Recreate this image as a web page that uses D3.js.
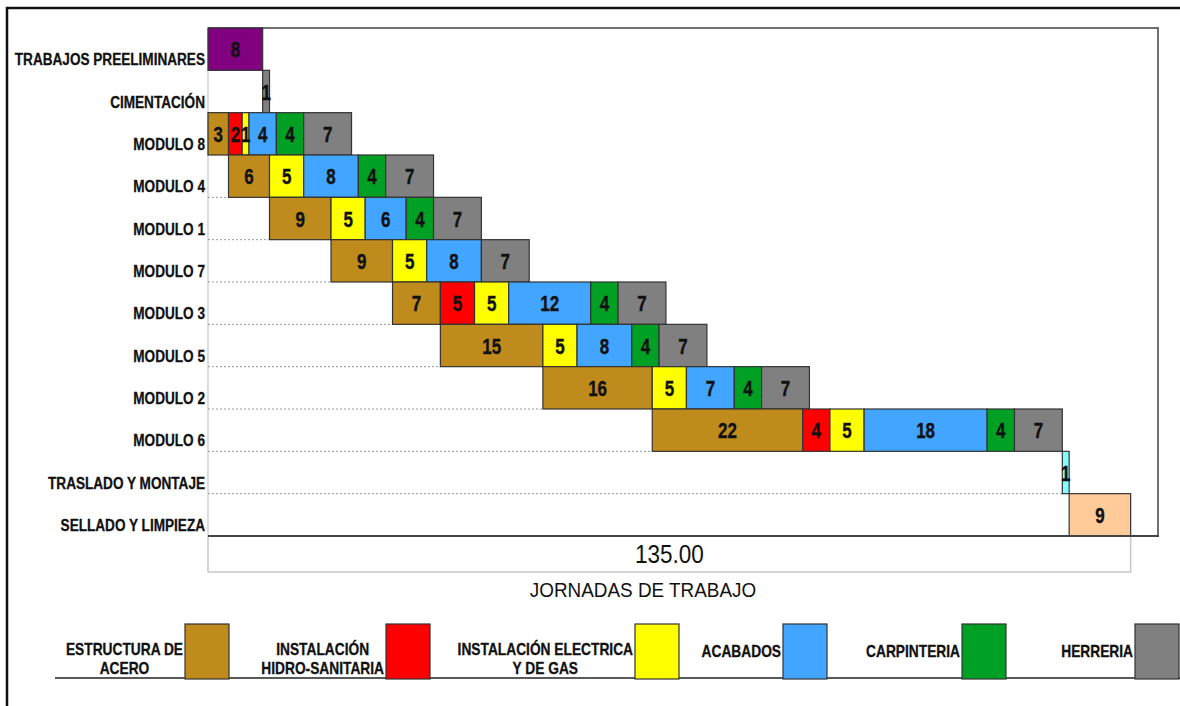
<!DOCTYPE html>
<html>
<head>
<meta charset="utf-8">
<script src="https://cdn.jsdelivr.net/npm/d3@7"></script>
<style>
  html, body { margin: 0; padding: 0; background: #fff; }
  svg { display: block; font-family: "Liberation Sans", Arial, sans-serif; }
</style>
</head>
<body>
<svg id="chart" width="1180" height="706"></svg>
<script>
// Activities, top to bottom
const activities = [
  "TRABAJOS PREELIMINARES", "CIMENTACIÓN", "MODULO 8", "MODULO 4", "MODULO 1",
  "MODULO 7", "MODULO 3", "MODULO 5", "MODULO 2", "MODULO 6",
  "TRASLADO Y MONTAJE", "SELLADO Y LIMPIEZA"
];
// Start day of each activity (jornadas)
const startDay = [0, 8, 0, 3, 9, 18, 27, 34, 49, 65, 125, 126];

// Single-task activities (days)
const generalWork = [8, 1, 0, 0, 0, 0, 0, 0, 0, 0, 1, 9];

// Trade durations per module (days), stacked in this order
const trades = ["ESTRUCTURA DE ACERO", "INSTALACIÓN HIDRO-SANITARIA", "INSTALACIÓN ELECTRICA Y DE GAS",
                "ACABADOS", "CARPINTERIA", "HERRERIA"];
const estructura  = [0, 0, 3,  6, 9, 9,  7, 15, 16, 22, 0, 0];
const hidro       = [0, 0, 2,  0, 0, 0,  5,  0,  0,  4, 0, 0];
const electrica   = [0, 0, 1,  5, 5, 5,  5,  5,  5,  5, 0, 0];
const acabados    = [0, 0, 4,  8, 6, 8, 12,  8,  7, 18, 0, 0];
const carpinteria = [0, 0, 4,  4, 4, 0,  4,  4,  4,  4, 0, 0];
const herreria    = [0, 0, 7,  7, 7, 7,  7,  7,  7,  7, 0, 0];

// Legend text, split into lines
const legendLines = [
  ["ESTRUCTURA DE", "ACERO"], ["INSTALACIÓN", "HIDRO-SANITARIA"], ["INSTALACIÓN ELECTRICA", "Y DE GAS"],
  ["ACABADOS"], ["CARPINTERIA"], ["HERRERIA"]
];
const axisTitle = "JORNADAS DE TRABAJO";

// ---- styles ----
const tradeColors = ["#BF8B1C", "#FF0000", "#FFFF00", "#42A5FF", "#00A024", "#808080"];
const generalColors = ["#800080", "#808080", null, null, null, null, null, null, null, null, "#80FFFF", "#FFCC99"];
const tradeValues = [estructura, hidro, electrica, acabados, carpinteria, herreria];

const svg = d3.select("#chart");

// outer frame
svg.append("line").attr("x1", 6).attr("x2", 1180).attr("y1", 8).attr("y2", 8)
  .attr("stroke", "#111").attr("stroke-width", 2.5);
svg.append("line").attr("x1", 7).attr("x2", 7).attr("y1", 7).attr("y2", 706)
  .attr("stroke", "#111").attr("stroke-width", 2.5);

const plot = { left: 208, right: 1158, top: 28, bottom: 536 };
const x = d3.scaleLinear().domain([0, 139]).range([plot.left, plot.right]);
const y = d3.scaleBand().domain(activities).range([plot.top, plot.bottom]).padding(0);
const bw = y.bandwidth();

// total duration
const ends = activities.map((a, i) =>
  startDay[i] + generalWork[i] + d3.sum(tradeValues, v => v[i]));
const total = d3.max(ends);

// plot frame
svg.append("line").attr("x1", plot.left).attr("x2", plot.left).attr("y1", plot.top).attr("y2", plot.bottom)
  .attr("stroke", "#bbb").attr("stroke-width", 1);
svg.append("polyline")
  .attr("points", `${plot.left},${plot.top} ${plot.right},${plot.top} ${plot.right},${plot.bottom}`)
  .attr("fill", "none").attr("stroke", "#707070").attr("stroke-width", 2);

// dotted guides from the origin to each activity's start
svg.append("g").selectAll("line")
  .data(activities.map((a, i) => ({ a, s: startDay[i] })).filter(d => d.s > 0))
  .join("line")
  .attr("x1", plot.left).attr("x2", d => x(d.s))
  .attr("y1", d => y(d.a) + bw).attr("y2", d => y(d.a) + bw)
  .attr("stroke", "#999").attr("stroke-width", 1).attr("stroke-dasharray", "2,2");

// axis cell showing the total
svg.append("polyline")
  .attr("points", `${x(0)},${plot.bottom} ${x(0)},572 ${x(total)},572 ${x(total)},${plot.bottom}`)
  .attr("fill", "none").attr("stroke", "#c8c8c8").attr("stroke-width", 1.5);
svg.append("text")
  .attr("transform", `translate(${(x(0) + x(total)) / 2},563) scale(0.9,1)`)
  .attr("text-anchor", "middle").attr("font-size", 25).attr("fill", "#111")
  .text(d3.format(".2f")(total));
svg.append("text")
  .attr("transform", `translate(643,597) scale(0.9,1)`)
  .attr("text-anchor", "middle").attr("font-size", 21).attr("fill", "#111")
  .text(axisTitle);

// segments
const segs = [];
activities.forEach((a, i) => {
  let cur = startDay[i];
  if (generalWork[i] > 0) {
    segs.push({ a, x0: cur, x1: cur + generalWork[i], v: generalWork[i], color: generalColors[i] });
    cur += generalWork[i];
  }
  tradeValues.forEach((vals, t) => {
    if (vals[i] > 0) {
      segs.push({ a, x0: cur, x1: cur + vals[i], v: vals[i], color: tradeColors[t] });
      cur += vals[i];
    }
  });
});

const gBars = svg.append("g");
gBars.selectAll("rect").data(segs).join("rect")
  .attr("x", d => x(d.x0)).attr("width", d => x(d.x1) - x(d.x0))
  .attr("y", d => y(d.a)).attr("height", bw)
  .attr("fill", d => d.color).attr("stroke", "#333").attr("stroke-width", 1.2);

// plot bottom line
svg.append("line").attr("x1", plot.left).attr("x2", plot.right + 1).attr("y1", plot.bottom).attr("y2", plot.bottom)
  .attr("stroke", "#444").attr("stroke-width", 1.8);

gBars.selectAll("text").data(segs).join("text")
  .attr("transform", d => `translate(${(x(d.x0) + x(d.x1)) / 2},${y(d.a) + bw / 2 + 8}) scale(0.77,1)`)
  .attr("text-anchor", "middle").attr("font-size", 22).attr("font-weight", "bold").attr("fill", "#111")
  .attr("stroke", "#111").attr("stroke-width", 0.4)
  .text(d => d.v);

// activity labels
const yAxis = svg.append("g").attr("transform", `translate(${plot.left},0)`)
  .call(d3.axisLeft(y).tickSize(0).tickPadding(0));
yAxis.select(".domain").remove();
yAxis.selectAll("text")
  .attr("x", 0).attr("dy", 0).attr("y", bw / 2 - 5)
  .attr("transform", "translate(-3,0) scale(0.8,1)")
  .attr("font-family", "Liberation Sans, Arial, sans-serif")
  .attr("font-size", 17).attr("font-weight", "bold").attr("fill", "#111")
  .attr("stroke", "#111").attr("stroke-width", 0.3);

// legend
const legendSwatchX = [185, 386, 635, 783, 962, 1135];
const legendTop = 624, legendH = 55, legendW = 44;
svg.append("line").attr("x1", 55).attr("x2", 1180).attr("y1", 678).attr("y2", 678)
  .attr("stroke", "#222").attr("stroke-width", 1.5);
const gLeg = svg.append("g");
const legScale = 0.86;
trades.forEach((t, i) => {
  gLeg.append("rect").attr("x", legendSwatchX[i]).attr("y", legendTop)
    .attr("width", legendW).attr("height", legendH)
    .attr("fill", tradeColors[i]).attr("stroke", "#333").attr("stroke-width", 1.2);
  const lines = legendLines[i];
  const g = gLeg.append("g");
  const texts = lines.map((ln, k) => g.append("text")
    .attr("text-anchor", "middle").attr("font-size", 16).attr("font-weight", "bold").attr("fill", "#111")
    .attr("stroke", "#111").attr("stroke-width", 0.3)
    .attr("transform", `translate(0,${lines.length === 1 ? 657 : 655 + k * 19}) scale(${legScale},1)`)
    .text(ln));
  const wMax = d3.max(texts, tx => tx.node().getComputedTextLength()) * legScale;
  g.attr("transform", `translate(${legendSwatchX[i] - 2 - wMax / 2},0)`);
});
</script>
</body>
</html>
